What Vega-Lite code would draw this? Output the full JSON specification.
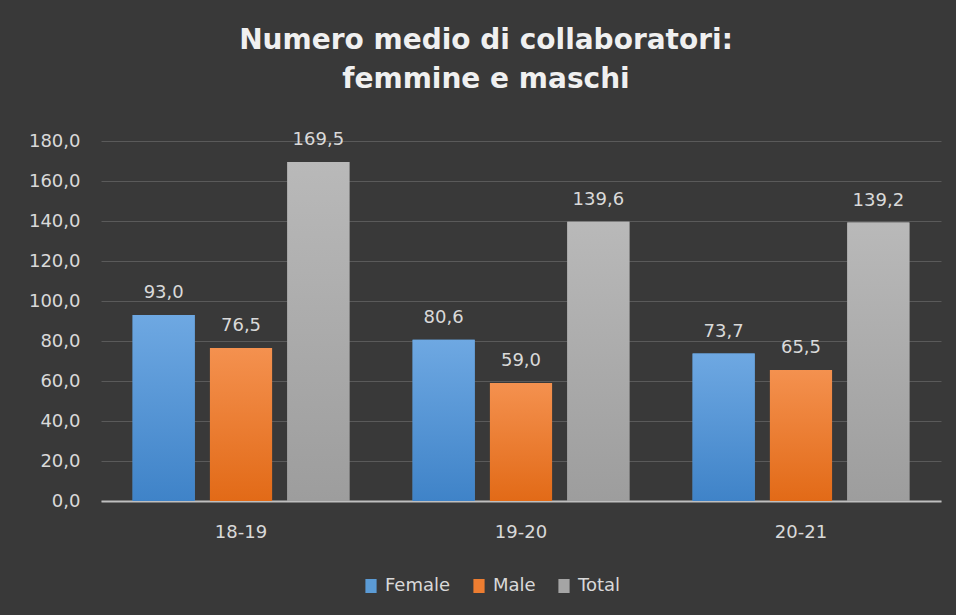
{
  "$schema": "https://vega.github.io/schema/vega-lite/v6.json",
  "width": 840,
  "height": 360,
  "autosize": {"type": "none"},
  "padding": {"left": 101, "top": 141, "right": 15, "bottom": 114},
  "background": "#393939",
  "title": {
    "text": ["Numero medio di collaboratori:", "femmine e maschi"],
    "font": "DejaVu Sans",
    "fontSize": 28,
    "fontWeight": "bold",
    "color": "#f0f0f0",
    "anchor": "middle",
    "dx": -35,
    "offset": 37,
    "lineHeight": 39
  },
  "data": {
    "values": [
      {"anno": "18-19", "serie": "Female", "valore": 93.0},
      {"anno": "18-19", "serie": "Male", "valore": 76.5},
      {"anno": "18-19", "serie": "Total", "valore": 169.5},
      {"anno": "19-20", "serie": "Female", "valore": 80.6},
      {"anno": "19-20", "serie": "Male", "valore": 59.0},
      {"anno": "19-20", "serie": "Total", "valore": 139.6},
      {"anno": "20-21", "serie": "Female", "valore": 73.7},
      {"anno": "20-21", "serie": "Male", "valore": 65.5},
      {"anno": "20-21", "serie": "Total", "valore": 139.2}
    ]
  },
  "encoding": {
    "x": {
      "field": "anno",
      "type": "nominal",
      "sort": null,
      "scale": {"paddingInner": 0.2257, "paddingOuter": 0.1129},
      "axis": {
        "title": null,
        "labelAngle": 0,
        "ticks": false,
        "tickSize": 0,
        "domain": true,
        "domainColor": "#bfbfbf",
        "domainWidth": 2,
        "labelPadding": 22,
        "grid": false
      }
    },
    "xOffset": {
      "field": "serie",
      "type": "nominal",
      "scale": {"domain": ["Female", "Male", "Total"], "paddingInner": 0.197, "paddingOuter": 0}
    },
    "y": {
      "field": "valore",
      "type": "quantitative",
      "scale": {"domain": [0, 180], "nice": false},
      "axis": {
        "title": null,
        "values": [0, 20, 40, 60, 80, 100, 120, 140, 160, 180],
        "format": ".1f",
        "domain": false,
        "ticks": false,
        "tickSize": 0,
        "labelPadding": 21,
        "grid": true,
        "gridColor": "#5a5a5a",
        "gridWidth": 1
      }
    }
  },
  "layer": [
    {
      "mark": {"type": "bar"},
      "encoding": {
        "color": {
          "field": "serie",
          "type": "nominal",
          "scale": {"domain": ["Female", "Male", "Total"], "range": ["#5b9bd5", "#ed7d31", "#a5a5a5"]},
          "legend": {
            "title": null,
            "orient": "none",
            "direction": "horizontal",
            "legendX": 261,
            "legendY": 436,
            "symbolType": "M-0.8,-1H0.8V1H-0.8Z",
            "symbolSize": 196,
            "symbolStrokeWidth": 0,
            "labelFont": "DejaVu Sans",
            "labelFontSize": 18,
            "labelColor": "#d9d9d9",
            "labelOffset": 5,
            "columnPadding": 19
          }
        }
      }
    },
    {
      "transform": [{"filter": "datum.serie === 'Female'"}],
      "mark": {
        "type": "bar",
        "color": {"gradient": "linear", "x1": 0, "y1": 0, "x2": 0, "y2": 1,
          "stops": [{"offset": 0, "color": "#6ea8e2"}, {"offset": 1, "color": "#3f83c8"}]}
      }
    },
    {
      "transform": [{"filter": "datum.serie === 'Male'"}],
      "mark": {
        "type": "bar",
        "color": {"gradient": "linear", "x1": 0, "y1": 0, "x2": 0, "y2": 1,
          "stops": [{"offset": 0, "color": "#f4914f"}, {"offset": 1, "color": "#e26a17"}]}
      }
    },
    {
      "transform": [{"filter": "datum.serie === 'Total'"}],
      "mark": {
        "type": "bar",
        "color": {"gradient": "linear", "x1": 0, "y1": 0, "x2": 0, "y2": 1,
          "stops": [{"offset": 0, "color": "#b9b9b9"}, {"offset": 1, "color": "#9d9d9d"}]}
      }
    },
    {
      "mark": {
        "type": "text",
        "baseline": "alphabetic",
        "dy": -17,
        "font": "DejaVu Sans",
        "fontSize": 18,
        "color": "#d9d9d9"
      },
      "encoding": {
        "text": {"field": "valore", "type": "quantitative", "format": ".1f"}
      }
    }
  ],
  "config": {
    "locale": {
      "number": {"decimal": ",", "thousands": ".", "grouping": [3], "currency": ["€", ""]}
    },
    "view": {"stroke": null},
    "axis": {
      "labelFont": "DejaVu Sans",
      "labelFontSize": 18,
      "labelColor": "#d9d9d9"
    }
  }
}
